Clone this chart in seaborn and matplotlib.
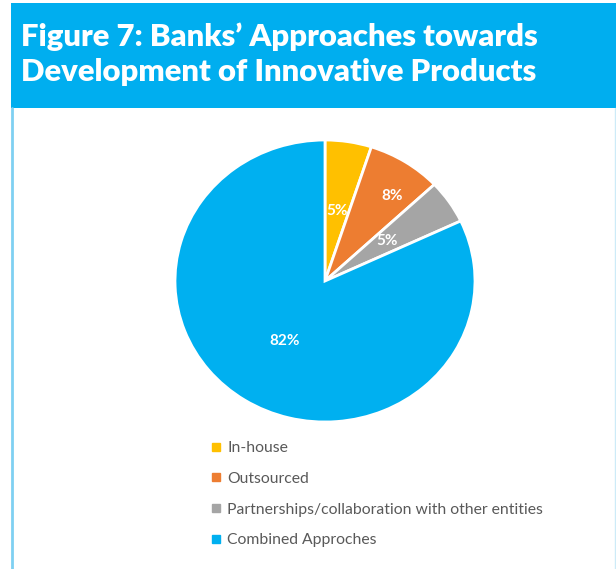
import matplotlib
matplotlib.use("Agg")
import matplotlib.pyplot as plt
import seaborn as sns
import numpy as np
from matplotlib.patches import Rectangle
from matplotlib.lines import Line2D

categories = ["In-house", "Outsourced", "Partnerships/collaboration with other entities", "Combined Approches"]
values = [5, 8, 5, 82]
pct_labels = ["5%", "8%", "5%", "82%"]
title_lines = ["Figure 7: Banks\u2019 Approaches towards", "Development of Innovative Products"]

sns.set_theme(style="white")
plt.rcParams['font.family'] = ['Lato', 'DejaVu Sans']
colors = ["#FFC000", "#ED7D31", "#A5A5A5", "#00B0F0"]
header_blue = "#00AEEF"

W, H = 616, 569
fig = plt.figure(figsize=(W / 100, H / 100), dpi=100)
fig.patch.set_facecolor("white")

def fx(x):
    return x / W

def fy(y):
    return 1 - y / H

# header band
fig.patches.append(Rectangle((fx(11), fy(108)), fx(616 - 11), (108 - 3) / H,
                             transform=fig.transFigure, facecolor=header_blue,
                             edgecolor="none", zorder=0))
# side borders
fig.add_artist(Line2D([fx(12), fx(12)], [fy(108), 0], transform=fig.transFigure,
                      color="#7FD0F2", lw=2))
fig.add_artist(Line2D([fx(614.5), fx(614.5)], [fy(108), 0], transform=fig.transFigure,
                      color="#CDEBF8", lw=1))

fig.text(fx(21), fy(37), title_lines[0], color="white", fontsize=22.3, fontweight="heavy",
         va="center", ha="left")
fig.text(fx(21), fy(72), title_lines[1], color="white", fontsize=22.3, fontweight="heavy",
         va="center", ha="left")

# pie axes
ax = fig.add_axes([fx(175), fy(422), 300 / W, 282 / H])
wedges, texts, autotexts = ax.pie(values, colors=colors, startangle=90, counterclock=False,
                                  autopct=lambda p: f"{p:.0f}%", pctdistance=0.5,
                                  wedgeprops=dict(edgecolor="white", linewidth=2),
                                  textprops=dict(color="white", fontsize=11, fontweight="bold"))
ax.set_aspect("auto")
ax.set_xlim(-1, 1)
ax.set_ylim(-1, 1)
for t, lab in zip(autotexts, pct_labels):
    t.set_text(lab)
# move outsourced label outward like the reference
w = wedges[1]
mid = np.deg2rad((w.theta1 + w.theta2) / 2 - 4)
autotexts[1].set_position((0.75 * np.cos(mid), 0.75 * np.sin(mid)))

handles = [Line2D([0], [0], marker="s", linestyle="none", markersize=6,
                  markerfacecolor=c, markeredgecolor=c) for c in colors]
fig.legend(handles, categories, loc="upper left", bbox_to_anchor=(fx(203), fy(435)),
           frameon=False, fontsize=11.3, labelcolor="#595959", handlelength=0.8,
           handletextpad=0.35, labelspacing=1.06, borderaxespad=0)

fig.savefig("out.png", dpi=100)
